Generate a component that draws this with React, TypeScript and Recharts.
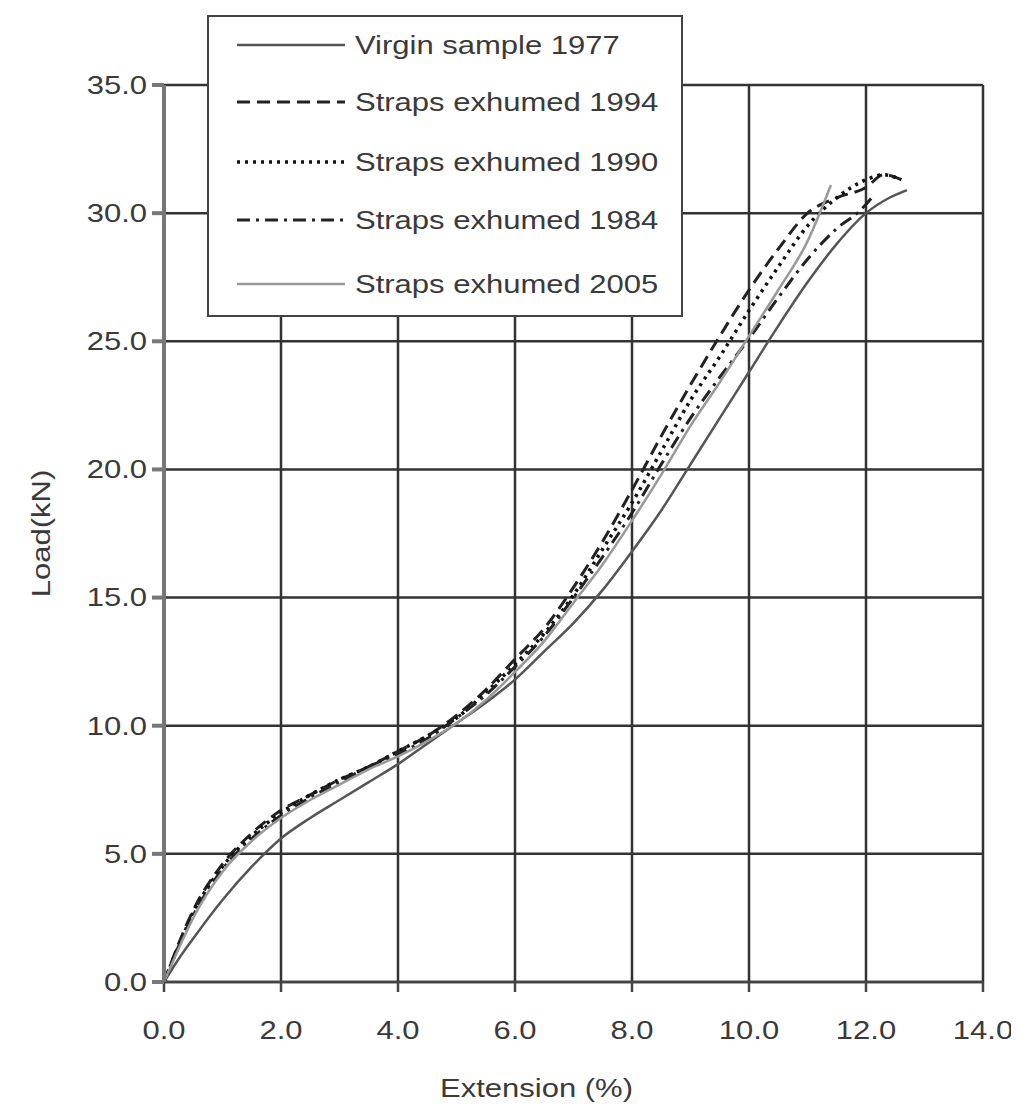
import { LineChart, Line, XAxis, YAxis, CartesianGrid } from "recharts";

// extension (%) and load (kN)
const virginExt = [0, 0.25, 0.5, 1, 1.5, 2, 2.5, 3, 3.5, 4, 4.5, 5, 5.5, 6, 6.5, 7, 7.5, 8, 8.5, 9, 9.5, 10, 10.5, 11, 11.5, 12, 12.4, 12.7];
const virginLoad = [0, 0.9, 1.7, 3.2, 4.5, 5.6, 6.4, 7.1, 7.8, 8.5, 9.3, 10.1, 10.9, 11.8, 12.9, 14.0, 15.3, 16.8, 18.4, 20.2, 22.0, 23.8, 25.6, 27.3, 28.8, 30.0, 30.6, 30.9];

const s1994Ext = [0, 0.25, 0.5, 1, 1.5, 2, 2.5, 3, 3.5, 4, 4.5, 5, 5.5, 6, 6.5, 7, 7.5, 8, 8.5, 9, 9.5, 10, 10.5, 11, 11.5, 12, 12.3, 12.7];
const s1994Load = [0, 1.5, 2.8, 4.6, 5.8, 6.7, 7.3, 7.9, 8.4, 9.0, 9.6, 10.4, 11.4, 12.6, 13.8, 15.4, 17.2, 19.2, 21.3, 23.3, 25.2, 27.0, 28.6, 30.0, 30.6, 31.0, 31.5, 31.2];

const s1990Ext = [0, 0.25, 0.5, 1, 1.5, 2, 2.5, 3, 3.5, 4, 4.5, 5, 5.5, 6, 6.5, 7, 7.5, 8, 8.5, 9, 9.5, 10, 10.5, 11, 11.5, 12, 12.3, 12.6];
const s1990Load = [0, 1.4, 2.7, 4.5, 5.7, 6.6, 7.3, 7.9, 8.4, 9.0, 9.6, 10.3, 11.3, 12.4, 13.6, 15.1, 16.9, 18.7, 20.7, 22.7, 24.4, 26.2, 27.9, 29.5, 30.6, 31.3, 31.5, 31.3];

const s1984Ext = [0, 0.25, 0.5, 1, 1.5, 2, 2.5, 3, 3.5, 4, 4.5, 5, 5.5, 6, 6.5, 7, 7.5, 8, 8.5, 9, 9.5, 10, 10.5, 11, 11.5, 11.9, 12.1];
const s1984Load = [0, 1.4, 2.6, 4.4, 5.6, 6.5, 7.2, 7.8, 8.4, 8.9, 9.5, 10.3, 11.2, 12.3, 13.5, 15.0, 16.6, 18.3, 20.2, 22.0, 23.6, 25.1, 26.7, 28.2, 29.4, 30.1, 30.6];

const s2005Ext = [0, 0.25, 0.5, 1, 1.5, 2, 2.5, 3, 3.5, 4, 4.5, 5, 5.5, 6, 6.5, 7, 7.5, 8, 8.5, 9, 9.5, 10, 10.5, 11, 11.4];
const s2005Load = [0, 1.3, 2.5, 4.3, 5.5, 6.4, 7.1, 7.7, 8.3, 8.8, 9.4, 10.1, 11.0, 12.1, 13.3, 14.8, 16.3, 18.0, 19.8, 21.7, 23.4, 25.2, 27.0, 28.9, 31.1];

const xTicks = [0, 2, 4, 6, 8, 10, 12, 14];
const yTicks = [0, 5, 10, 15, 20, 25, 30, 35];

const toPoints = (ext: number[], load: number[]) =>
  ext.map((e, i) => ({ ext: e, load: load[i] }));

const series = [
  { name: "Virgin sample 1977", data: toPoints(virginExt, virginLoad), color: "#555", dash: undefined, width: 2.5 },
  { name: "Straps exhumed 1994", data: toPoints(s1994Ext, s1994Load), color: "#222", dash: "13 7", width: 3 },
  { name: "Straps exhumed 1990", data: toPoints(s1990Ext, s1990Load), color: "#111", dash: "3 5", width: 3.5 },
  { name: "Straps exhumed 1984", data: toPoints(s1984Ext, s1984Load), color: "#222", dash: "13 6 3 6", width: 3 },
  { name: "Straps exhumed 2005", data: toPoints(s2005Ext, s2005Load), color: "#999", dash: undefined, width: 2.5 },
];

const font = "'Liberation Sans', Arial, sans-serif";
const textColor = "#3a3a3a";
const stretch = 1.24; // the source picture is widened horizontally

const XTick = (props: any) => {
  const { x, y, payload } = props;
  return (
    <g transform={`translate(${x},${y}) scale(${stretch},1)`}>
      <text x={0} y={0} dy="0.71em" textAnchor="middle" fill={textColor} fontSize={25} fontFamily={font}>
        {Number(payload.value).toFixed(1)}
      </text>
    </g>
  );
};

const YTick = (props: any) => {
  const { x, y, payload } = props;
  return (
    <g transform={`translate(${x},${y}) scale(${stretch},1)`}>
      <text x={0} y={0} dy="0.355em" textAnchor="end" fill={textColor} fontSize={25} fontFamily={font}>
        {Number(payload.value).toFixed(1)}
      </text>
    </g>
  );
};

const legendRows = [28, 85, 145, 203, 267];

function LegendBox() {
  return (
    <div
      style={{
        position: "absolute",
        left: 199,
        top: 7,
        width: 472,
        height: 298,
        border: "2px solid #444",
        background: "#fff",
        fontFamily: font,
        fontSize: 25,
        color: textColor,
      }}
    >
      {series.map((s, i) => (
        <div key={s.name}>
          <svg width={110} height={10} style={{ position: "absolute", left: 28, top: legendRows[i] - 5 }}>
            <line x1={0} y1={5} x2={108} y2={5} stroke={s.color} strokeWidth={s.width} strokeDasharray={s.dash} />
          </svg>
          <span
            style={{
              position: "absolute",
              left: 146,
              top: legendRows[i] - 15,
              lineHeight: "30px",
              whiteSpace: "nowrap",
              transform: `scaleX(${stretch})`,
              transformOrigin: "left center",
            }}
          >
            {s.name}
          </span>
        </div>
      ))}
    </div>
  );
}

export default function App() {
  return (
    <div style={{ position: "relative", width: 1003, height: 1095, background: "#fff" }}>
      <style>{`.recharts-surface { overflow: visible; } .recharts-wrapper { overflow: visible; }`}</style>
      <LineChart
        width={1003}
        height={1095}
        margin={{ top: 77, right: 28, bottom: 61, left: 86 }}
      >
        <CartesianGrid stroke="#333" strokeWidth={2.5} horizontalValues={yTicks} verticalValues={xTicks} />
        <XAxis
          type="number"
          dataKey="ext"
          domain={[0, 14]}
          ticks={xTicks}
          tickSize={10}
          tickMargin={29}
          height={60}
          stroke="#444"
          strokeWidth={2.5}
          tick={XTick}
          label={(p: any) => {
            const vb = p.viewBox;
            const cx = vb.x + vb.width / 2 - 37;
            return (
              <g transform={`translate(${cx},${vb.y + 115}) scale(${stretch},1)`}>
                <text x={0} y={0} textAnchor="middle" fill={textColor} fontSize={25} fontFamily={font}>
                  Extension (%)
                </text>
              </g>
            );
          }}
          allowDataOverflow
        />
        <YAxis
          type="number"
          dataKey="load"
          domain={[0, 35]}
          ticks={yTicks}
          tickSize={12}
          tickMargin={5}
          width={70}
          stroke="#777"
          strokeWidth={4}
          tick={YTick}
          label={(p: any) => {
            const vb = p.viewBox;
            const cy = vb.y + vb.height / 2;
            return (
              <g transform={`translate(${33},${cy}) rotate(-90) scale(${stretch},1)`}>
                <text x={0} y={0} dy="0.355em" textAnchor="middle" fill={textColor} fontSize={25} fontFamily={font}>
                  Load(kN)
                </text>
              </g>
            );
          }}
          allowDataOverflow
        />
        {series.map((s) => (
          <Line
            key={s.name}
            data={s.data}
            dataKey="load"
            name={s.name}
            type="monotone"
            stroke={s.color}
            strokeWidth={s.width}
            strokeDasharray={s.dash}
            dot={false}
            isAnimationActive={false}
          />
        ))}
      </LineChart>
      <LegendBox />
    </div>
  );
}
